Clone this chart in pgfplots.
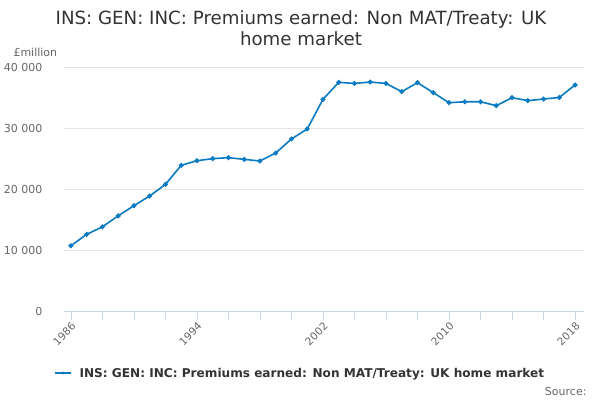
\documentclass[border=0pt]{standalone}
\usepackage{fontspec}
\setmainfont{DejaVu Sans}
\usepackage{pgfplots}
\pgfplotsset{compat=1.18}
\definecolor{linec}{HTML}{0A7BC1}
\definecolor{gridc}{HTML}{E6E6E6}
\definecolor{axisc}{HTML}{CCD6EB}
\definecolor{tickt}{HTML}{666666}
\definecolor{titlec}{HTML}{333333}
\begin{document}
\begin{tikzpicture}[x=1pt,y=1pt]
\path[use as bounding box] (0,0) rectangle (600,400);
\node[text=titlec,font=\fontsize{18.2}{22}\selectfont,anchor=base] at (301,375) {INS: GEN: INC: Premiums earned: Non MAT/Treaty: UK};
\node[text=titlec,font=\fontsize{18.2}{22}\selectfont,anchor=base] at (301,354) {home market};
\node[text=tickt,font=\fontsize{11}{13}\selectfont,anchor=base west] at (10,343) {£million};
\begin{axis}[
  at={(64pt,89pt)}, anchor=south west,
  scale only axis, width=520pt, height=244pt,
  xmin=1985.56, xmax=2018.57, ymin=0, ymax=40000,
  axis line style={draw=none},
  axis x line*=bottom, axis y line*=left,
  x axis line style={draw=axisc,line width=0.8pt},
  ymajorgrids, grid style={gridc,line width=0.8pt},
  scaled y ticks=false,
  ytick={0,10000,20000,30000,40000},
  yticklabels={0,10 000,20 000,30 000,40 000},
  y tick style={draw=none},
  y tick label style={text=tickt,font=\fontsize{11}{13}\selectfont,xshift=-9pt},
  xtick={1986,1994,2002,2010,2018},
  xticklabels={1986,1994,2002,2010,2018},
  minor xtick={1988,1990,1992,1996,1998,2000,2004,2006,2008,2012,2014,2016},
  x tick style={draw=axisc,line width=0.8pt},
  minor x tick style={draw=axisc,line width=0.8pt},
  major tick length=9pt, minor tick length=9pt,
  tick align=outside,
  xtick pos=bottom,
  x tick label style={text=tickt,font=\fontsize{10.5}{13}\selectfont,rotate=45,anchor=north east,inner sep=1pt},
  clip=false,
]
\addplot[color=linec,line width=1.6pt,mark=*,mark size=1.6pt] coordinates {
(1986,10700)(1987,12570)(1988,13800)(1989,15600)(1990,17270)(1991,18850)(1992,20760)
(1993,23880)(1994,24640)(1995,24970)(1996,25140)(1997,24860)(1998,24590)(1999,25900)
(2000,28200)(2001,29840)(2002,34700)(2003,37490)(2004,37300)(2005,37540)(2006,37300)
(2007,35960)(2008,37430)(2009,35800)(2010,34150)(2011,34300)(2012,34300)(2013,33660)
(2014,34970)(2015,34480)(2016,34750)(2017,35000)(2018,37050)
};
\end{axis}
\draw[linec,line width=1.6pt] (55,27)--(71,27);
\fill[linec] (63,27) circle (1.6pt);
\node[text=titlec,font=\fontsize{12.1}{15}\bfseries\selectfont,anchor=base west] at (76,22.5) {INS: GEN: INC: Premiums earned: Non MAT/Treaty: UK home market};
\node[text=tickt,font=\fontsize{11}{13}\selectfont,anchor=base east] at (590,5) {Source:};
\end{tikzpicture}
\end{document}
